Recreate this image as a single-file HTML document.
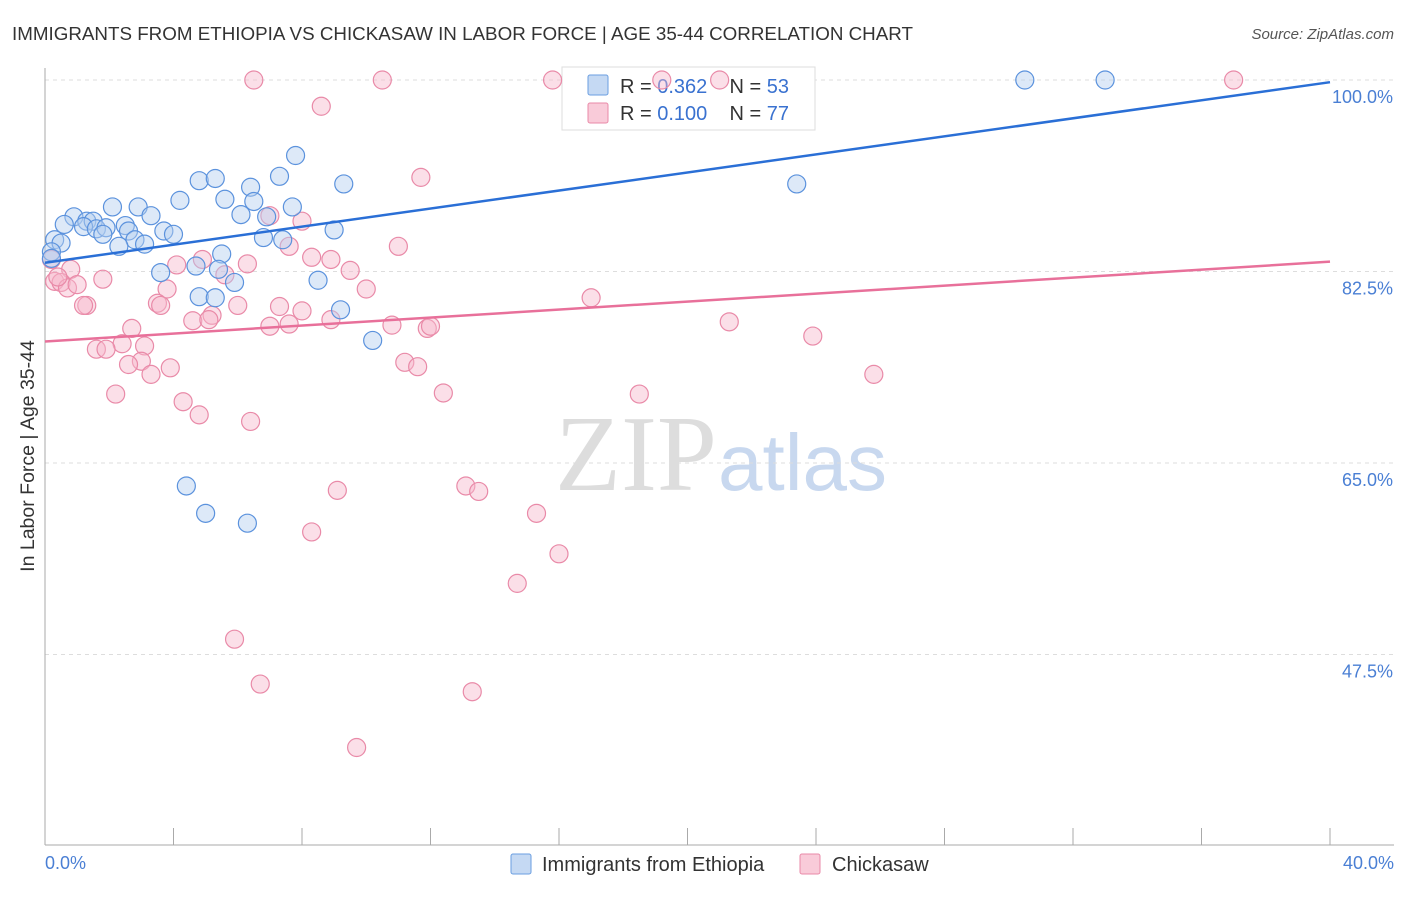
<!DOCTYPE html>
<html><head><meta charset="utf-8"><style>
body{margin:0;background:#fff;font-family:"Liberation Sans",sans-serif}
</style></head><body>
<svg width="1406" height="892" xmlns="http://www.w3.org/2000/svg">
<text x="12" y="40" font-size="18.8" fill="#333">IMMIGRANTS FROM ETHIOPIA VS CHICKASAW IN LABOR FORCE | AGE 35-44 CORRELATION CHART</text>
<text x="1394" y="39" font-size="15" fill="#555" text-anchor="end" font-style="italic">Source: ZipAtlas.com</text>
<text x="555" y="490" font-size="108" fill="#ddd" font-family="Liberation Serif,serif">ZIP</text>
<text x="718" y="490" font-size="80" fill="#c8d8ef">atlas</text>
<g id="grid"></g><g id="axes"></g>
<g>
<rect x="562" y="67" width="253" height="63" fill="#fff" stroke="#ddd"/>
<rect x="588" y="75" width="20" height="20" fill="#c5d9f3" stroke="#6a9ee0" rx="2"/>
<text x="620" y="93" font-size="20" fill="#333" xml:space="preserve">R = <tspan fill="#3a72d0">0.362</tspan>    N = <tspan fill="#3a72d0">53</tspan></text>
<rect x="588" y="103" width="20" height="20" fill="#f9cbd9" stroke="#e98aa8" rx="2"/>
<text x="620" y="120" font-size="20" fill="#333" xml:space="preserve">R = <tspan fill="#3a72d0">0.100</tspan>    N = <tspan fill="#3a72d0">77</tspan></text>
</g>
<g id="pts"></g><g id="lines"></g>
<text transform="translate(34,456) rotate(-90)" font-size="19.5" fill="#333" text-anchor="middle">In Labor Force | Age 35-44</text>
<text x="45" y="869" font-size="18" fill="#4a7fd4">0.0%</text>
<text x="1394" y="869" font-size="18" fill="#4a7fd4" text-anchor="end">40.0%</text>
<g>
<rect x="511" y="854" width="20" height="20" fill="#c5d9f3" stroke="#6a9ee0" rx="2"/>
<text x="542" y="871" font-size="20" fill="#333">Immigrants from Ethiopia</text>
<rect x="800" y="854" width="20" height="20" fill="#f9cbd9" stroke="#e98aa8" rx="2"/>
<text x="832" y="871" font-size="20" fill="#333">Chickasaw</text>
</g>
</svg>
<script>
const yTicks=[100,82.5,65,47.5];
const yTickLabels=["100.0%","82.5%","65.0%","47.5%"];
const blueX=[30.5,33.0,23.4,7.8,7.3,4.8,5.3,9.3,6.4,5.6,4.2,6.5,7.7,2.1,2.9,3.3,6.1,6.9,0.9,1.3,1.5,0.6,1.2,1.6,1.9,2.5,2.6,1.8,3.7,4.0,9.0,6.8,7.4,2.8,3.1,0.3,0.5,2.3,0.2,5.5,4.7,5.4,3.6,5.9,8.5,4.8,5.3,9.2,10.2,4.4,5.0,6.3,0.2];
const blueY=[100,100,90.5,93.1,91.2,90.8,91,90.5,90.2,89.1,89,88.9,88.4,88.4,88.4,87.6,87.7,87.5,87.5,87.1,87.1,86.8,86.6,86.4,86.5,86.7,86.2,85.9,86.2,85.9,86.3,85.6,85.4,85.4,85,85.4,85.1,84.8,84.3,84.1,83,82.7,82.4,81.5,81.7,80.2,80.1,79,76.2,62.9,60.4,59.5,83.7];
const pinkX=[6.5,10.5,15.8,19.2,21.0,37.0,8.6,11.7,7.0,8.0,7.6,11.0,0.2,8.3,8.9,6.3,4.9,4.1,0.8,9.5,5.6,0.3,0.5,0.7,1.0,1.8,3.8,10.0,17.0,3.5,3.6,1.3,1.2,6.0,7.3,8.0,5.2,4.6,5.1,8.9,7.0,7.6,10.8,11.9,12.0,21.3,2.7,23.9,2.4,3.1,1.6,1.9,3.0,2.6,11.2,11.6,3.9,3.3,25.8,2.2,12.4,18.5,4.3,4.8,6.4,9.1,13.1,13.5,15.3,8.3,16.0,14.7,5.9,6.7,13.3,9.7,0.4];
const pinkY=[100,100,100,100,100,100,97.6,91.1,87.6,87.1,84.8,84.8,83.6,83.8,83.6,83.2,83.6,83.1,82.7,82.6,82.2,81.6,81.5,81.0,81.3,81.8,80.9,80.9,80.1,79.6,79.4,79.4,79.4,79.4,79.3,78.9,78.5,78.0,78.1,78.1,77.5,77.7,77.6,77.3,77.5,77.9,77.3,76.6,75.9,75.7,75.4,75.4,74.3,74.0,74.2,73.8,73.7,73.1,73.1,71.3,71.4,71.3,70.6,69.4,68.8,62.5,62.9,62.4,60.4,58.7,56.7,54.0,48.9,44.8,44.1,39.0,82.0];
const blueTrend=[83.3,99.8];
const pinkTrend=[76.1,83.4];
const X=v=>45+v/40*1285, Y=v=>80+(100-v)*10.943;
const NS="http://www.w3.org/2000/svg";
function mk(t,a,p){const e=document.createElementNS(NS,t);for(const k in a)e.setAttribute(k,a[k]);p.appendChild(e);return e;}
const grid=document.getElementById('grid'),axes=document.getElementById('axes');
yTicks.forEach((t,i)=>{
 const l=mk('line',{x1:45,x2:1394,y1:Y(t),y2:Y(t),stroke:'#ddd','stroke-dasharray':'4,4'},grid);
 
 
 const tx=mk('text',{x:1393,y:Y(t)+23,'font-size':18,fill:'#4a7fd4','text-anchor':'end','font-family':'Liberation Sans,sans-serif'},grid);
 tx.textContent=yTickLabels[i];
 
 
});
const ax=mk('line',{x1:45,x2:45,y1:68,y2:845,stroke:'#aaa'},axes);


const bx=mk('line',{x1:45,x2:1394,y1:845,y2:845,stroke:'#aaa'},axes);


for(let i=0;i<=10;i++){const t=mk('line',{x1:X(i*4),x2:X(i*4),y1:828,y2:845,stroke:'#aaa'},axes);
 
 }
const pts=document.getElementById('pts');
function plot(xs,ys,f,s,n){xs.forEach((x,i)=>{const c=mk('circle',{cx:X(x),cy:Y(ys[i]),r:9,fill:f,'fill-opacity':0.45,stroke:s,'stroke-width':1.2},pts);
 
 });}
plot(pinkX,pinkY,'#f7b8cb','#e98aa8','chickasaw-point');
plot(blueX,blueY,'#b4cff0','#5b92dd','ethiopia-point');
function trend(tr,col,n){
 const l=mk('line',{x1:X(0),y1:Y(tr[0]),x2:X(40),y2:Y(tr[1]),stroke:col,'stroke-width':2.5},document.getElementById('lines'));
 
 }
trend(blueTrend,'#2a6fd6','ethiopia-trendline');
trend(pinkTrend,'#e8709a','chickasaw-trendline');
</script>
</body></html>
